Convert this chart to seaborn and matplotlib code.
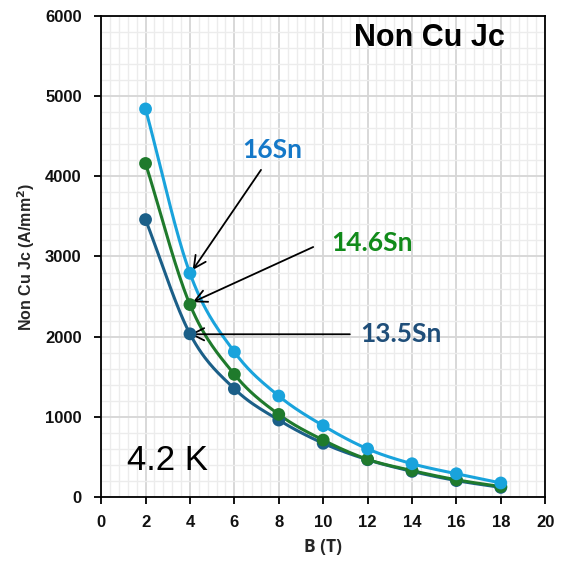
import numpy as np
import pandas as pd
import matplotlib
matplotlib.use("Agg")
import matplotlib.pyplot as plt
from matplotlib.ticker import MultipleLocator
import seaborn as sns

# Field (T) and non-Cu critical current density (A/mm^2) at 4.2 K
field_T = [2, 4, 6, 8, 10, 12, 14, 16, 18]
jc_16sn = [4840, 2790, 1810, 1260, 890, 600, 415, 290, 175]
jc_146sn = [4160, 2400, 1530, 1030, 710, 470, 330, 215, 130]
jc_135sn = [3460, 2035, 1350, 960, 670, 465, 320, 205, 120]

series_names = ["13.5Sn", "14.6Sn", "16Sn"]
series_values = [jc_135sn, jc_146sn, jc_16sn]
line_colors = {"13.5Sn": "#1b5f88", "14.6Sn": "#1f7a2c", "16Sn": "#19a3dc"}
label_colors = {"13.5Sn": "#1f4e79", "14.6Sn": "#118a1a", "16Sn": "#1478c8"}


def catmull_rom(x, y, n=30):
    """Smooth curve through the points (Catmull-Rom spline)."""
    x = np.asarray(x, float)
    y = np.asarray(y, float)
    px = np.concatenate([[2 * x[0] - x[1]], x, [2 * x[-1] - x[-2]]])
    py = np.concatenate([[2 * y[0] - y[1]], y, [2 * y[-1] - y[-2]]])
    xs, ys = [], []
    t = np.linspace(0, 1, n, endpoint=False)
    for i in range(1, len(px) - 2):
        for arr, out in ((px, xs), (py, ys)):
            p0, p1, p2, p3 = arr[i - 1], arr[i], arr[i + 1], arr[i + 2]
            out.append(0.5 * ((2 * p1) + (-p0 + p2) * t
                              + (2 * p0 - 5 * p1 + 4 * p2 - p3) * t ** 2
                              + (-p0 + 3 * p1 - 3 * p2 + p3) * t ** 3))
    xs.append([x[-1]])
    ys.append([y[-1]])
    return np.concatenate(xs), np.concatenate(ys)


points = pd.DataFrame({
    "B": np.tile(field_T, len(series_names)),
    "Jc": np.concatenate(series_values),
    "alloy": np.repeat(series_names, len(field_T)),
})

curves = []
for name, vals in zip(series_names, series_values):
    sx, sy = catmull_rom(field_T, vals)
    curves.append(pd.DataFrame({"B": sx, "Jc": sy, "alloy": name}))
curves = pd.concat(curves, ignore_index=True)

sns.set_theme(style="white")
plt.rcParams["font.family"] = ["Liberation Sans", "DejaVu Sans"]

fig = plt.figure(figsize=(5.65, 5.69), dpi=100)
ax = fig.add_axes([0.179, 0.1265, 0.786, 0.8455])

for name in series_names:
    sns.lineplot(data=curves[curves.alloy == name], x="B", y="Jc",
                 color=line_colors[name], lw=2.2, sort=False,
                 estimator=None, ax=ax, zorder=3)
    sns.scatterplot(data=points[points.alloy == name], x="B", y="Jc",
                    color=line_colors[name], s=85, edgecolor="none",
                    ax=ax, zorder=4)

ax.set_xlim(0, 20)
ax.set_ylim(0, 6000)
ax.xaxis.set_major_locator(MultipleLocator(2))
ax.xaxis.set_minor_locator(MultipleLocator(0.4))
ax.yaxis.set_major_locator(MultipleLocator(1000))
ax.yaxis.set_minor_locator(MultipleLocator(200))
ax.grid(which="major", color="#d6d6d6", lw=1.3, zorder=0)
ax.grid(which="minor", color="#ececec", lw=1.0, zorder=0)
ax.set_axisbelow(True)

for sp in ax.spines.values():
    sp.set_color("black")
    sp.set_linewidth(1.3)

ax.tick_params(which="major", direction="out", length=5, width=1.3,
               color="black", bottom=True, left=True, labelsize=12)
ax.tick_params(axis="y", pad=9)
ax.tick_params(axis="x", pad=8)
ax.tick_params(which="minor", length=0)
for lab in ax.get_xticklabels() + ax.get_yticklabels():
    lab.set_fontweight("bold")
    lab.set_color("#111111")

ax.set_xlabel("B (T)", fontsize=12.5, fontweight="bold", labelpad=6,
              family=["Open Sans", "DejaVu Sans"])
ax.set_ylabel("Non Cu Jc (A/mm$^{\\mathbf{2}}$)", fontsize=11.5,
              fontweight="bold", labelpad=6)

ax.text(14.8, 5725, "Non Cu Jc", fontsize=22, fontweight="bold",
        ha="center", va="center", color="black")
ax.text(3.0, 460, "4.2 K", fontsize=25, ha="center", va="center",
        color="black")

label_font = ["Lato", "DejaVu Sans"]
labels = [
    ("16Sn", (7.7, 4330), (7.2, 4080), (4.12, 2830)),
    ("14.6Sn", (12.2, 3170), (9.55, 3118), (4.12, 2430)),
    ("13.5Sn", (13.5, 2030), (11.2, 2030), (4.0, 2030)),
]
for name, text_pos, tail, head in labels:
    ax.text(*text_pos, name, color=label_colors[name], fontsize=19,
            fontweight="bold", family=label_font, ha="center", va="center")
    ax.annotate("", xy=head, xytext=tail,
                arrowprops=dict(arrowstyle="->", color="black", lw=1.3,
                                mutation_scale=22, shrinkA=0, shrinkB=0))

fig.savefig("out.png", dpi=100)
